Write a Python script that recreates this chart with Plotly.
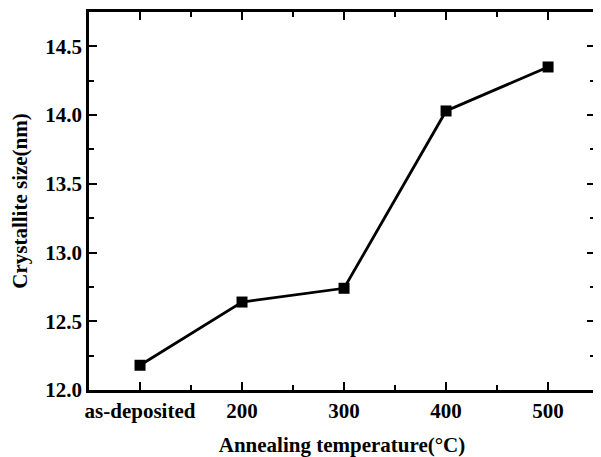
import plotly.graph_objects as go

categories = ["as-deposited", "200", "300", "400", "500"]
x_pos = [0, 1, 2, 3, 4]
crystallite_size = [12.18, 12.64, 12.74, 14.03, 14.35]
y_ticks = [12.0, 12.5, 13.0, 13.5, 14.0, 14.5]
y_tick_labels = ["12.0", "12.5", "13.0", "13.5", "14.0", "14.5"]

font_family = "Liberation Serif, Times New Roman, serif"

fig = go.Figure()
fig.add_trace(go.Scatter(
    x=x_pos, y=crystallite_size, mode="lines+markers",
    line=dict(color="black", width=2.8),
    marker=dict(symbol="square", size=11, color="black"),
    showlegend=False,
))

axis_common = dict(
    showline=True, linecolor="black", linewidth=2.8, mirror="allticks",
    ticks="inside", ticklen=8, tickwidth=2.2, tickcolor="black",
    showgrid=False, zeroline=False, automargin=False,
    tickfont=dict(family=font_family, size=21, color="black", weight="bold"),
)

fig.update_xaxes(
    **axis_common,
    range=[-0.5, 4.46],
    tickmode="array", tickvals=x_pos, ticktext=categories,
    minor=dict(tickmode="array", tickvals=[0.5, 1.5, 2.5, 3.5, 4.5],
               ticks="inside", ticklen=5, tickwidth=2.2, tickcolor="black"),
    title=dict(text="Annealing temperature(°C)",
               font=dict(family=font_family, size=21, color="black", weight="bold"), standoff=29),
)
fig.update_yaxes(
    **axis_common,
    range=[12.0, 14.75],
    tickmode="array", tickvals=y_ticks, ticktext=y_tick_labels,
    minor=dict(tickmode="array", tickvals=[12.25, 12.75, 13.25, 13.75, 14.25, 14.75],
               ticks="inside", ticklen=5, tickwidth=2.2, tickcolor="black"),
    title=dict(text="Crystallite size(nm)",
               font=dict(family=font_family, size=21, color="black", weight="bold"), standoff=12),
)

# page body has an 8px default margin, so the figure is sized to fit the window
fig.update_layout(
    width=593, height=449,
    margin=dict(l=81, r=6, t=4, b=67),
    paper_bgcolor="white", plot_bgcolor="white",
    font=dict(family=font_family, size=21, color="black"),
)

fig.write_html("out.html")
